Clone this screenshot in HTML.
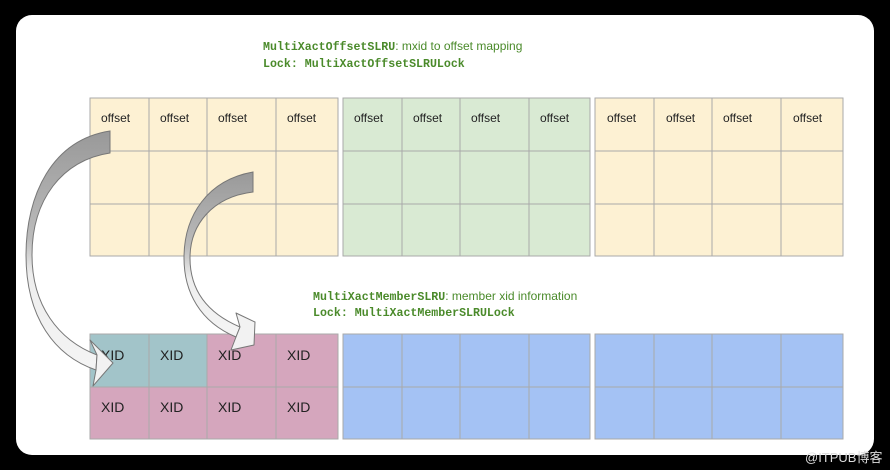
<!DOCTYPE html>
<html><head><meta charset="utf-8"><style>
body{margin:0;background:#000;width:890px;height:470px;overflow:hidden;position:relative;font-family:"Liberation Sans",sans-serif}
.card{position:absolute;left:16px;top:15px;width:858px;height:440px;background:#fff;border-radius:16px}
.t{position:absolute;font-size:12px;color:#4a8a2a;white-space:nowrap}
.m{font-family:"Liberation Mono",monospace;font-weight:bold;font-size:11.6px}
</style></head><body>
<div class="card"></div>
<div class="t" style="left:263px;top:39px"><span class="m">MultiXactOffsetSLRU</span>: mxid to offset mapping</div>
<div class="t" style="left:263px;top:56px"><span class="m">Lock: MultiXactOffsetSLRULock</span></div>
<div class="t" style="left:313px;top:289px"><span class="m">MultiXactMemberSLRU</span>: member xid information</div>
<div class="t" style="left:313px;top:305px"><span class="m">Lock: MultiXactMemberSLRULock</span></div>
<svg width="890" height="470" style="position:absolute;left:0;top:0" font-family="Liberation Sans, sans-serif">
<defs><linearGradient id="g" x1="0" y1="0" x2="0" y2="1"><stop offset="0" stop-color="#999"/><stop offset="0.45" stop-color="#bbb"/><stop offset="0.6" stop-color="#eee"/><stop offset="1" stop-color="#f4f4f4"/></linearGradient>
<linearGradient id="g2" x1="0" y1="0" x2="0" y2="1"><stop offset="0" stop-color="#999"/><stop offset="0.45" stop-color="#bbb"/><stop offset="0.65" stop-color="#eee"/><stop offset="1" stop-color="#f4f4f4"/></linearGradient></defs>
<g stroke="#a9a9a9" stroke-width="1">
<rect x="90" y="98" width="248" height="158" fill="#fdf1d3"/>
<rect x="343" y="98" width="247" height="158" fill="#d9ead3"/>
<rect x="595" y="98" width="248" height="158" fill="#fdf1d3"/>
<rect x="90" y="334" width="248" height="105" fill="#d5a6bd"/>
<rect x="90" y="334" width="117" height="53" fill="#a2c4c9"/>
<rect x="343" y="334" width="247" height="105" fill="#a4c2f4"/>
<rect x="595" y="334" width="248" height="105" fill="#a4c2f4"/>
<path d="M149 98V256M207 98V256M276 98V256M402 98V256M460 98V256M529 98V256M654 98V256M712 98V256M781 98V256M90 151H338M343 151H590M595 151H843M90 204H338M343 204H590M595 204H843
M149 334V439M207 334V439M276 334V439M402 334V439M460 334V439M529 334V439M654 334V439M712 334V439M781 334V439M90 387H338M343 387H590M595 387H843" fill="none"/>
</g>
<g font-size="12" fill="#222">
<text x="101" y="122">offset</text><text x="160" y="122">offset</text><text x="218" y="122">offset</text><text x="287" y="122">offset</text>
<text x="354" y="122">offset</text><text x="413" y="122">offset</text><text x="471" y="122">offset</text><text x="540" y="122">offset</text>
<text x="607" y="122">offset</text><text x="666" y="122">offset</text><text x="723" y="122">offset</text><text x="793" y="122">offset</text>
</g>
<g font-size="14" fill="#222">
<text x="101" y="360">XID</text><text x="160" y="360">XID</text><text x="218" y="360">XID</text><text x="287" y="360">XID</text>
<text x="101" y="412">XID</text><text x="160" y="412">XID</text><text x="218" y="412">XID</text><text x="287" y="412">XID</text>
</g>
<path d="M110 131V153C62 160 32 200 32 255C32 305 58 340 97 355L96 370C55 356 26 318 26 255C26 195 52 140 110 131Z" fill="url(#g)" stroke="#777"/>
<path d="M97 355L90 340L113 363L93 386L96 370Z" fill="#f2f2f2" stroke="#777" stroke-linejoin="round"/>
<path d="M253 172V192C212 197 190 225 190 258C190 290 207 313 240 327L236 337C200 322 184 292 184 258C184 215 208 180 253 172Z" fill="url(#g2)" stroke="#777"/>
<path d="M240 327L236 313L255 322L254 345L231 350L236 337Z" fill="#f2f2f2" stroke="#777" stroke-linejoin="round"/>
<text x="805" y="462" font-size="13" fill="#ddd" font-family="Liberation Sans, Noto Sans CJK SC, sans-serif">@ITPUB博客</text>
</svg>
</body></html>
